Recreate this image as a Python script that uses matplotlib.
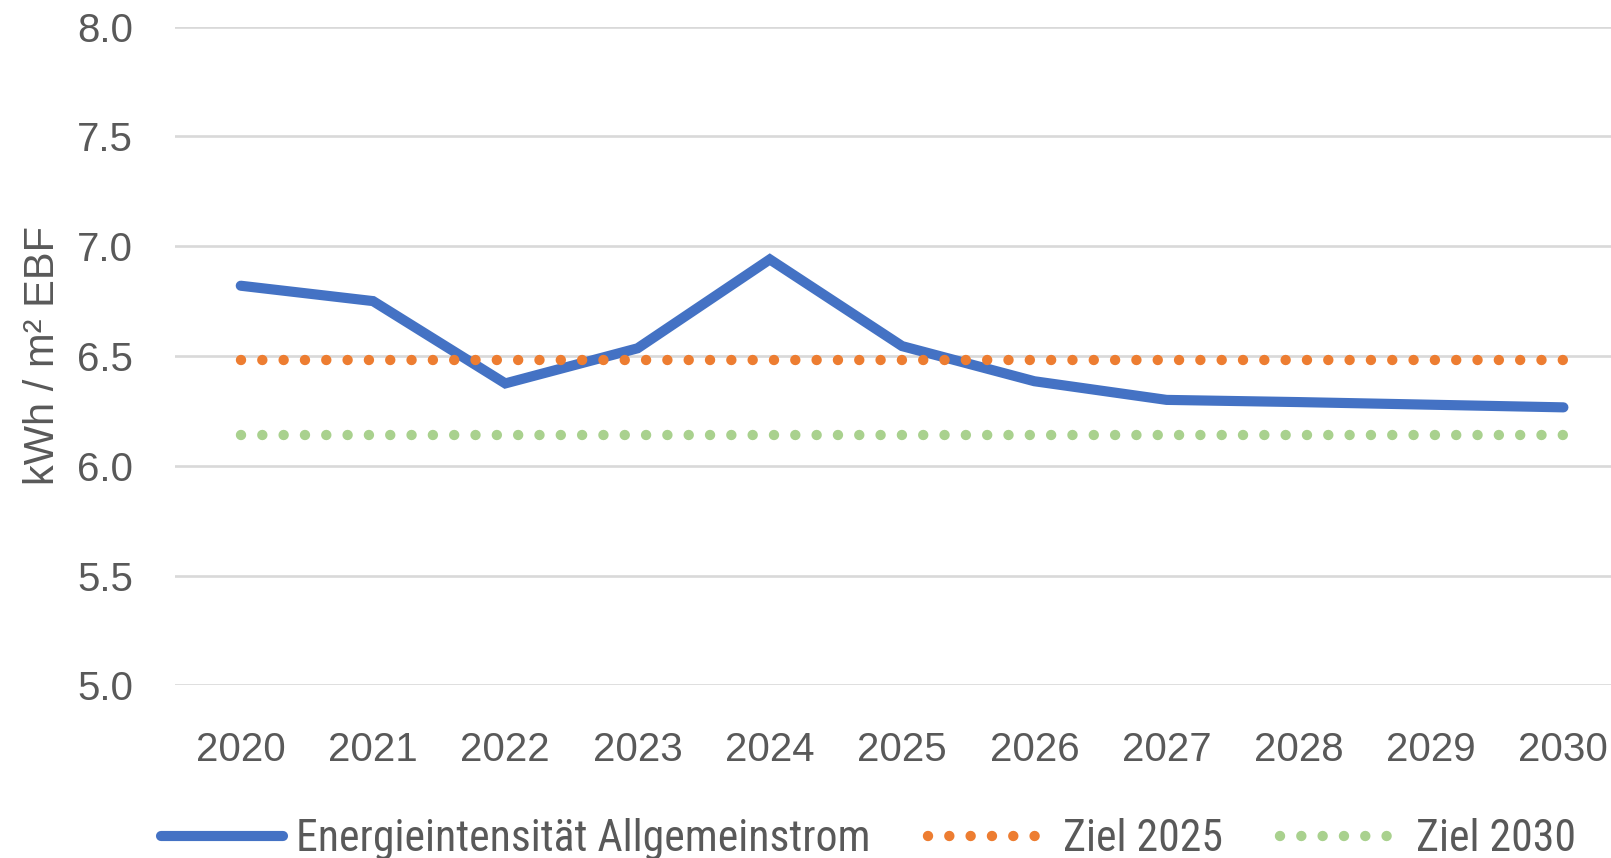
import matplotlib
matplotlib.use("Agg")
import matplotlib.pyplot as plt
from matplotlib import font_manager

# data
years = [2020, 2021, 2022, 2023, 2024, 2025, 2026, 2027, 2028, 2029, 2030]
intensity = [6.82, 6.75, 6.375, 6.535, 6.94, 6.545, 6.385, 6.30, 6.29, 6.278, 6.266]
target_2025 = [6.48] * len(years)
target_2030 = [6.14] * len(years)
y_ticks = [5.0, 5.5, 6.0, 6.5, 7.0, 7.5, 8.0]

labels = ["Energieintensität Allgemeinstrom", "Ziel 2025", "Ziel 2030"]

# pick a narrow font if there is one (reference uses Calibri)
available = {f.name for f in font_manager.fontManager.ttflist}
legend_font = "Liberation Sans"
for name in ["Liberation Sans Narrow", "Roboto Condensed", "Open Sans Condensed"]:
    if name in available:
        legend_font = name
        break

plt.rcParams["font.family"] = ["Liberation Sans", "DejaVu Sans"]
plt.rcParams["lines.scale_dashes"] = False

grey = "#595959"
blue = "#4472C4"
orange = "#ED7D31"
green = "#A9D18E"

fig = plt.figure(figsize=(16.11, 8.58), dpi=100)
ax = fig.add_axes([0.1084, 0.2013, 0.9031, 0.7676])

x = list(range(len(years)))
ax.plot(x, intensity, color=blue, lw=7.3, solid_capstyle="round",
        solid_joinstyle="miter", label=labels[0], zorder=3)
dots = (0, (0.01, 15.34))
ax.plot(x, target_2025, color=orange, lw=7.5, linestyle=dots,
        dash_capstyle="round", label=labels[1], zorder=4)
ax.plot(x, target_2030, color=green, lw=7.5, linestyle=dots,
        dash_capstyle="round", label=labels[2], zorder=4)

ax.set_xlim(-0.5, len(years) - 0.5)
ax.set_ylim(5.0, 8.0)
ax.set_yticks(y_ticks)
ax.set_yticklabels([f"{v:.1f}" for v in y_ticks])
ax.set_xticks(x)
ax.set_xticklabels([str(y) for y in years])

ax.grid(axis="y", color="#D9D9D9", lw=1.9, zorder=0)
ax.set_axisbelow(True)
for s in ax.spines.values():
    s.set_visible(False)
ax.tick_params(axis="both", length=0, labelsize=29, colors=grey)
ax.tick_params(axis="x", pad=33)
ax.tick_params(axis="y", pad=30)

ax.set_ylabel("kWh / m² EBF", fontsize=30, color=grey)
ax.yaxis.set_label_coords(-0.077, 0.5)

fig.legend(loc="center", bbox_to_anchor=(0.539, 0.022), ncol=3, frameon=False,
           prop={"family": legend_font, "size": 31.5}, labelcolor=grey,
           handlelength=2.8, handletextpad=0.3, columnspacing=1.3,
           borderaxespad=0, borderpad=0)

fig.savefig("out.png", dpi=100)
